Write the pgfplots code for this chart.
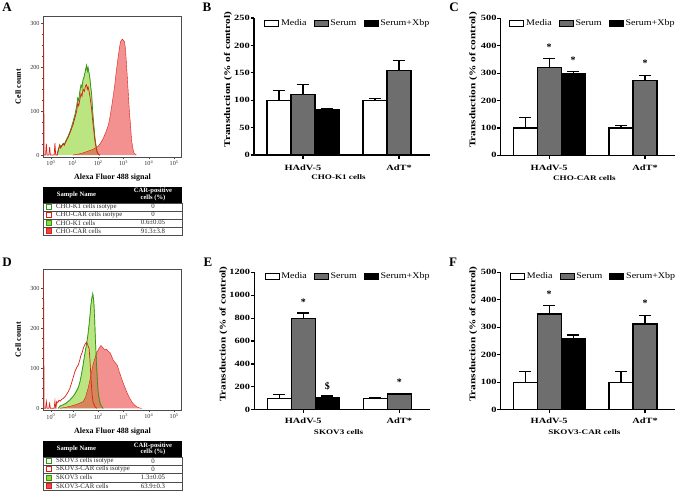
\documentclass[border=0pt]{standalone}
\usepackage{fontspec}
\setmainfont{Liberation Serif}
\newfontfamily\wide[FakeStretch=1.3]{Liberation Serif}
\newfontfamily\legfont[FakeStretch=1.15]{Liberation Serif}
\usepackage{pgfplots}
\pgfplotsset{compat=1.18}
\definecolor{sergray}{RGB}{110,110,110}
\definecolor{gfill}{RGB}{150,215,60}
\definecolor{gline}{RGB}{50,150,20}
\definecolor{rfill}{RGB}{235,70,70}
\definecolor{rline}{RGB}{220,30,20}
\tikzset{sig/.style={font=\bfseries\fontsize{10}{10}\selectfont, inner sep=0pt}}
\pgfplotsset{
  barpanel/.style={
    scale only axis, anchor=south west, clip=false,
    axis x line*=bottom, axis y line*=left,
    axis line style={line width=1.3pt},
    ymin=0,
    xtick={1,5}, xticklabels={HAdV-5,AdT*},
    major tick length=3.5pt, tick align=outside,
    tick style={line width=1.2pt, black},
    ticklabel style={font=\wide\bfseries\fontsize{8}{9}\selectfont},
    yticklabel style={inner sep=0.5pt},
    /pgf/number format/assume math mode=true,
    /pgf/number format/1000 sep={},
    ylabel={Transduction (\% of control)},
    every axis y label/.style={rotate=90, anchor=center, font=\wide\bfseries\fontsize{8.7}{9}\selectfont},
    every axis x label/.style={anchor=center, at={(axis description cs:0.48,-0.163)}, font=\wide\bfseries\fontsize{7}{8}\selectfont},
    legend columns=-1,
    legend style={draw=none, fill=none, anchor=west, inner sep=0pt,
       font=\legfont\fontsize{8.7}{9}\selectfont,
       /tikz/every even column/.append style={column sep=5pt}},
    legend image code/.code={\draw[##1, line width=0.8pt] (0pt,-3pt) rectangle (14pt,3pt);},
  },
  bars/.style={ybar, bar width=1, bar shift=0pt, line width=1.2pt, draw=black, forget plot,
    error bars/.cd, y dir=plus, y explicit,
    error bar style={line width=1.2pt, black},
    error mark options={rotate=90, line width=1.2pt, black, mark size=6pt}},
  histpanel/.style={
    scale only axis, anchor=south west, width=138.4pt,
    xmin=-0.17, xmax=5.3, no markers,
    axis line style={black!70, line width=0.5pt},
    xtick={0.13,1,2,3,4,5},
    xticklabels={10\textsuperscript{0},10\textsuperscript{1},10\textsuperscript{2},10\textsuperscript{3},10\textsuperscript{4},10\textsuperscript{5}},
    ytick={0,100,200,300}, minor y tick num=3,
    minor xtick={1.301,1.477,1.602,1.699,1.778,1.845,1.903,1.954,2.301,2.477,2.602,2.699,2.778,2.845,2.903,2.954,3.301,3.477,3.602,3.699,3.778,3.845,3.903,3.954,4.301,4.477,4.602,4.699,4.778,4.845,4.903,4.954},
    xtick pos=bottom, ytick pos=left,
    tick align=outside, major tick length=2.5pt, minor tick length=1.5pt,
    tick style={black!70, line width=0.5pt},
    ticklabel style={font=\fontsize{6.2}{6.5}\selectfont, text=black!80, inner sep=1pt},
    /pgf/number format/assume math mode=true,
    xlabel={Alexa Fluor 488 signal}, ylabel={Cell count},
    every axis y label/.style={at={(axis description cs:-0.181,0.5)}, rotate=90, anchor=center, font=\bfseries\fontsize{8}{9}\selectfont},
  },
}
\newcommand{\trow}[6]{%
 \draw[black!70,line width=0.4pt] (43.3pt,-#1pt) rectangle (181.7pt,-#2pt);
 \draw[#4,line width=0.6pt] (46.7pt,-#3pt) ++(0pt,-2.4pt) rectangle ++(4.8pt,4.8pt);
 \node[anchor=west, inner sep=0pt, text=black!85] at (56pt,-#3pt) {#5};
 \node[inner sep=0pt, text=black!85] at (153pt,-#3pt) {#6};
}
\begin{document}
\begin{tikzpicture}
\path[use as bounding box] (0pt,0pt) rectangle (696pt,-491pt);
% panel letters
\begin{scope}[font=\bfseries\fontsize{13}{13}\selectfont]
\node at (7pt,-7.5pt) {A};
\node at (207pt,-7.5pt) {B};
\node at (454pt,-7.5pt) {C};
\node at (7pt,-262.5pt) {D};
\node at (208pt,-262.5pt) {E};
\node at (453pt,-262.5pt) {F};
\end{scope}

% ---------------- A ----------------
\begin{axis}[histpanel, at={(43.3pt,-156.8pt)}, height=140.5pt, ymin=-4, ymax=316,
  every axis x label/.style={at={(axis description cs:0.5,-0.146)}, anchor=center, font=\bfseries\fontsize{8}{9}\selectfont}]
\addplot[draw=gline!80, line width=0.4pt, fill=gfill, fill opacity=0.65] coordinates {
(0.36,0)(0.42,9)(0.48,22)(0.52,17)(0.55,20)(0.62,26)(0.66,23)(0.70,29)(0.75,35)(0.81,42)(0.88,52)(0.95,64)(1.02,78)(1.08,91)(1.15,110)(1.19,128)(1.23,122)(1.28,145)(1.32,157)(1.36,152)(1.40,170)(1.45,178)(1.50,192)(1.54,200)(1.57,190)(1.60,197)(1.64,186)(1.67,176)(1.70,158)(1.74,138)(1.77,110)(1.80,86)(1.84,60)(1.87,40)(1.92,20)(1.96,7)(2.02,1)(2.07,0)};
\addplot[draw=rline, line width=0.4pt, fill=rfill, fill opacity=0.6] coordinates {
(1.0,0)(1.2,2)(1.41,5)(1.6,9)(1.80,13)(2.0,20)(2.1,28)(2.2,38)(2.3,52)(2.40,68)(2.47,88)(2.53,110)(2.60,137)(2.66,163)(2.72,193)(2.79,224)(2.84,244)(2.88,258)(2.92,262)(2.96,264)(3.0,261)(3.04,258)(3.07,245)(3.09,232)(3.12,205)(3.15,178)(3.19,140)(3.23,102)(3.28,65)(3.32,34)(3.37,15)(3.42,4)(3.51,0)};
\addplot[draw=gline, line width=0.7pt] coordinates {
(0.38,0)(0.42,10)(0.48,24)(0.52,18)(0.55,21)(0.62,27)(0.66,24)(0.70,30)(0.75,36)(0.81,43)(0.88,53)(0.95,65)(1.02,79)(1.08,92)(1.15,112)(1.19,130)(1.23,125)(1.28,148)(1.32,160)(1.36,155)(1.40,172)(1.45,180)(1.50,195)(1.54,205)(1.57,192)(1.60,200)(1.64,186)(1.67,176)(1.70,158)(1.74,138)(1.77,110)(1.80,85)(1.84,60)(1.87,40)(1.92,20)(1.96,7)(2.02,1)(2.07,0)};
\addplot[draw=rline, line width=0.7pt] coordinates {
(-0.17,0)(-0.16,300)(-0.14,0)(-0.08,0)(-0.05,26)(-0.02,0)(0.05,0)(0.08,18)(0.11,0)(0.26,0)(0.29,27)(0.32,0)(0.38,0)(0.42,12)(0.48,22)(0.52,16)(0.55,20)(0.62,25)(0.66,22)(0.70,28)(0.75,33)(0.81,40)(0.88,50)(0.95,60)(1.02,72)(1.08,85)(1.15,100)(1.19,118)(1.23,112)(1.28,128)(1.32,140)(1.36,134)(1.40,150)(1.45,145)(1.50,158)(1.54,160)(1.57,150)(1.60,155)(1.64,145)(1.67,135)(1.70,122)(1.74,105)(1.77,85)(1.80,68)(1.84,48)(1.87,32)(1.92,16)(1.96,6)(2.02,1)(2.07,0)};
\end{axis}

% table A
\begin{scope}[font=\fontsize{6.8}{7}\selectfont]
\fill[black] (43.3pt,-186.7pt) rectangle (181.7pt,-202.7pt);
\node[white, font=\bfseries\fontsize{6.6}{7}\selectfont] at (76.5pt,-194.7pt) {Sample Name};
\node[white, font=\bfseries\fontsize{6.6}{6.6}\selectfont, align=center] at (153pt,-194.7pt) {CAR-positive\\cells (\%)};
\trow{202.7}{210.7}{206.7}{draw=gline,fill=white}{CHO-K1 cells isotype}{0}
\trow{210.7}{218.7}{214.7}{draw=rline,fill=white}{CHO-CAR cells isotype}{0}
\trow{218.7}{226.7}{222.7}{draw=gline,fill=gfill}{CHO-K1 cells}{0.6±0.05}
\trow{226.7}{235}{230.85}{draw=rline,fill=rfill}{CHO-CAR cells}{91.3±3.8}
\end{scope}

% ---------------- D ----------------
\begin{axis}[histpanel, at={(43.3pt,-409.9pt)}, height=140.6pt, ymin=-4, ymax=347.5,
  every axis x label/.style={at={(axis description cs:0.5,-0.155)}, anchor=center, font=\bfseries\fontsize{8}{9}\selectfont}]
\addplot[draw=gline!80, line width=0.4pt, fill=gfill, fill opacity=0.65] coordinates {
(0.40,0)(0.49,4)(0.62,8)(0.75,12)(0.88,20)(1.01,29)(1.11,38)(1.21,50)(1.28,65)(1.34,83)(1.40,105)(1.47,133)(1.53,155)(1.58,175)(1.63,200)(1.67,225)(1.71,255)(1.74,275)(1.78,290)(1.81,282)(1.83,267)(1.86,230)(1.88,192)(1.91,150)(1.94,108)(1.97,70)(2.0,42)(2.05,22)(2.09,12)(2.15,4)(2.2,0)};
\addplot[draw=rline, line width=0.4pt, fill=rfill, fill opacity=0.6] coordinates {
(0.49,0)(0.75,3)(1.01,7)(1.2,11)(1.41,17)(1.50,28)(1.60,50)(1.67,70)(1.74,92)(1.80,110)(1.87,125)(1.93,137)(2.0,146)(2.05,152)(2.11,157)(2.18,152)(2.26,146)(2.33,148)(2.40,142)(2.46,140)(2.52,132)(2.59,121)(2.66,115)(2.75,108)(2.83,92)(2.92,75)(3.02,58)(3.12,42)(3.22,28)(3.32,17)(3.42,9)(3.52,4)(3.62,1)(3.72,0)};
\addplot[draw=gline, line width=0.7pt] coordinates {
(0.42,0)(0.49,6)(0.62,9)(0.75,14)(0.88,21)(1.01,30)(1.11,40)(1.21,52)(1.28,67)(1.34,86)(1.40,108)(1.47,136)(1.53,158)(1.58,178)(1.63,205)(1.67,230)(1.71,258)(1.74,272)(1.78,282)(1.81,276)(1.83,260)(1.86,222)(1.88,185)(1.91,142)(1.94,100)(1.97,64)(2.0,38)(2.05,18)(2.09,9)(2.15,3)(2.2,0)};
\addplot[draw=rline, line width=0.7pt] coordinates {
(-0.17,0)(-0.16,338)(-0.14,0)(-0.08,0)(-0.05,17)(-0.02,0)(0.05,0)(0.08,12)(0.11,0)(0.26,0)(0.29,18)(0.32,0)(0.33,0)(0.36,17)(0.40,14)(0.45,20)(0.50,18)(0.55,22)(0.62,25)(0.70,30)(0.75,35)(0.82,42)(0.88,50)(0.98,70)(1.08,92)(1.15,102)(1.21,108)(1.27,120)(1.32,133)(1.37,140)(1.41,150)(1.46,158)(1.50,162)(1.54,165)(1.58,160)(1.62,152)(1.64,150)(1.67,125)(1.70,92)(1.73,60)(1.76,33)(1.80,15)(1.87,4)(1.95,0)};
\end{axis}

% table D
\begin{scope}[font=\fontsize{6.8}{7}\selectfont]
\fill[black] (43.3pt,-441pt) rectangle (181.7pt,-456.7pt);
\node[white, font=\bfseries\fontsize{6.6}{7}\selectfont] at (76.5pt,-448.85pt) {Sample Name};
\node[white, font=\bfseries\fontsize{6.6}{6.6}\selectfont, align=center] at (153pt,-448.85pt) {CAR-positive\\cells (\%)};
\trow{456.7}{465}{460.85}{draw=gline,fill=white}{SKOV3 cells isotype}{0}
\trow{465}{473.3}{469.15}{draw=rline,fill=white}{SKOV3-CAR cells isotype}{0}
\trow{473.3}{481.7}{477.5}{draw=gline,fill=gfill}{SKOV3 cells}{1.3±0.05}
\trow{481.7}{490}{485.85}{draw=rline,fill=rfill}{SKOV3-CAR cells}{63.9±0.3}
\end{scope}

% ---------------- B ----------------
\begin{axis}[barpanel, at={(254pt,-155pt)}, width=176pt, height=137pt,
  xmin=-1.04, xmax=6.29, ymax=250, ytick={0,50,...,250},
  xticklabel style={yshift=-3pt},
  ylabel style={at={(axis description cs:-0.148,0.55)}},
  xlabel={CHO-K1 cells},
  legend style={at={(axis description cs:0.057,0.961)}}]
\addplot[fill=white, bars] coordinates {(0,100) +- (0,18) (4,100) +- (0,3)};
\addplot[fill=sergray, bars] coordinates {(1,110) +- (0,18) (5,154) +- (0,19)};
\addplot[fill=black, bars] coordinates {(2,82) +- (0,2)};
\addlegendimage{fill=white, draw=black}\addlegendentry{Media}
\addlegendimage{fill=sergray, draw=black}\addlegendentry{Serum}
\addlegendimage{fill=black, draw=black}\addlegendentry{Serum+Xbp}
\end{axis}

% ---------------- C ----------------
\begin{axis}[barpanel, at={(500.7pt,-155.3pt)}, width=174.3pt, height=137pt,
  xmin=-1.02, xmax=6.25, ymax=500, ytick={0,100,...,500},
  xticklabel style={yshift=-3pt},
  ylabel style={at={(axis description cs:-0.157,0.55)}},
  xlabel={CHO-CAR cells},
  legend style={at={(axis description cs:0.049,0.961)}}]
\addplot[fill=white, bars] coordinates {(0,100) +- (0,38) (4,100) +- (0,8)};
\addplot[fill=sergray, bars] coordinates {(1,320) +- (0,32) (5,272) +- (0,20)};
\addplot[fill=black, bars] coordinates {(2,298) +- (0,7)};
\addlegendimage{fill=white, draw=black}\addlegendentry{Media}
\addlegendimage{fill=sergray, draw=black}\addlegendentry{Serum}
\addlegendimage{fill=black, draw=black}\addlegendentry{Serum+Xbp}
\node[sig] at (axis cs:1,396) {*};
\node[sig] at (axis cs:2,348) {*};
\node[sig] at (axis cs:5,336) {*};
\end{axis}

% ---------------- E ----------------
\begin{axis}[barpanel, at={(254.3pt,-409.7pt)}, width=175.7pt, height=137.4pt,
  xmin=-1.04, xmax=6.28, ymax=1200, ytick={0,200,...,1200},
  xticklabel style={yshift=-1pt},
  ylabel style={at={(axis description cs:-0.176,0.55)}},
  xlabel={SKOV3 cells},
  legend style={at={(axis description cs:0.057,0.968)}}]
\addplot[fill=white, bars] coordinates {(0,100) +- (0,30) (4,100) +- (0,7)};
\addplot[fill=sergray, bars] coordinates {(1,800) +- (0,45) (5,137) +- (0,8)};
\addplot[fill=black, bars] coordinates {(2,103) +- (0,17)};
\addlegendimage{fill=white, draw=black}\addlegendentry{Media}
\addlegendimage{fill=sergray, draw=black}\addlegendentry{Serum}
\addlegendimage{fill=black, draw=black}\addlegendentry{Serum+Xbp}
\node[sig] at (axis cs:1,938) {*};
\node[sig] at (axis cs:2,207) {\$};
\node[sig] at (axis cs:5,239) {*};
\end{axis}

% ---------------- F ----------------
\begin{axis}[barpanel, at={(500.7pt,-409.7pt)}, width=174.3pt, height=137.4pt,
  xmin=-1.02, xmax=6.25, ymax=500, ytick={0,100,...,500},
  xticklabel style={yshift=-1pt},
  ylabel style={at={(axis description cs:-0.157,0.55)}},
  xlabel={SKOV3-CAR cells},
  legend style={at={(axis description cs:0.053,0.968)}}]
\addplot[fill=white, bars] coordinates {(0,100) +- (0,40) (4,100) +- (0,40)};
\addplot[fill=sergray, bars] coordinates {(1,348) +- (0,32) (5,312) +- (0,30)};
\addplot[fill=black, bars] coordinates {(2,258) +- (0,14)};
\addlegendimage{fill=white, draw=black}\addlegendentry{Media}
\addlegendimage{fill=sergray, draw=black}\addlegendentry{Serum}
\addlegendimage{fill=black, draw=black}\addlegendentry{Serum+Xbp}
\node[sig] at (axis cs:1,421) {*};
\node[sig] at (axis cs:5,387) {*};
\end{axis}
\end{tikzpicture}
\end{document}
